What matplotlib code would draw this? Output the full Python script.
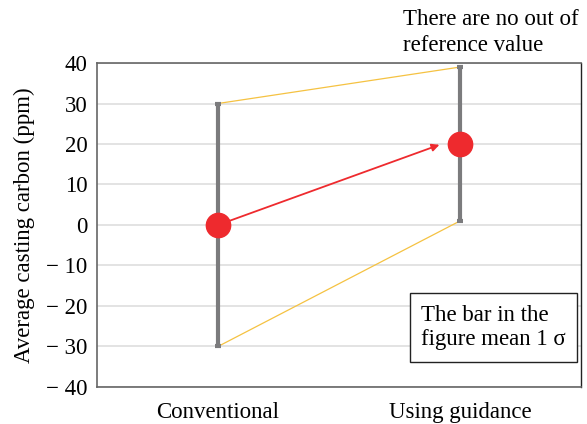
import matplotlib.pyplot as plt

# --- Data ---
categories = ["Conventional", "Using guidance"]
means = [0, 20]
sigmas = [30, 19]
yticks = [40, 30, 20, 10, 0, -10, -20, -30, -40]
ytick_labels = ["40", "30", "20", "10", "0", "\u2212 10", "\u2212 20", "\u2212 30", "\u2212 40"]

plt.rcParams["font.family"] = ["Liberation Serif", "DejaVu Serif"]
FS = 16.5

fig = plt.figure(figsize=(5.87, 4.24), dpi=100)
ax = fig.add_axes([0.1652, 0.0873, 0.8246, 0.7641])

x = list(range(len(categories)))
gray = "#7b7b7d"
red = "#ee2a2e"
yellow = "#f5c242"

# thin yellow lines joining the ends of the 1-sigma bars
upper = [m + s for m, s in zip(means, sigmas)]
lower = [m - s for m, s in zip(means, sigmas)]
ax.plot(x, upper, color=yellow, lw=0.9, zorder=2)
ax.plot(x, lower, color=yellow, lw=0.9, zorder=2)

ax.errorbar(x, means, yerr=sigmas, fmt="none", ecolor=gray, elinewidth=3,
            capsize=2.5, capthick=3, zorder=3)
ax.plot(x, means, "o", color=red, markersize=17.5, zorder=5)

# arrow showing the shift of the mean
ax.annotate("", xy=(0.915, 19.8), xytext=(x[0], means[0]),
            arrowprops=dict(arrowstyle="-|>", color=red, lw=1.3,
                            mutation_scale=11, shrinkA=0, shrinkB=0),
            zorder=4)

ax.set_xlim(-0.5, 1.5)
ax.set_ylim(-40, 40)
ax.set_xticks(x)
ax.set_xticklabels(categories, fontsize=FS)
ax.set_yticks(yticks)
ax.set_yticklabels(ytick_labels, fontsize=FS)
ax.tick_params(length=0, pad=7)
ax.tick_params(axis="x", pad=11)
ax.yaxis.grid(True, color="#dedede", lw=1.2)
ax.set_axisbelow(True)
for side in ["left", "bottom", "top"]:
    ax.spines[side].set_color("#666666")
    ax.spines[side].set_linewidth(1.2)
ax.spines["right"].set_color("#222222")
ax.spines["right"].set_linewidth(1.0)
ax.set_ylabel("Average casting carbon (ppm)", fontsize=FS, labelpad=8)

fig.text(0.686, 0.978, "There are no out of\nreference value", fontsize=FS,
         ha="left", va="top", linespacing=1.3)
ax.text(0.84, -25.3, "The bar in the\nfigure mean 1 \u03c3", fontsize=FS,
        ha="left", va="center", linespacing=1.2,
        bbox=dict(boxstyle="square,pad=0.5", fc="white", ec="#222222", lw=1.0),
        zorder=6)

plt.savefig("out.png", dpi=100)
